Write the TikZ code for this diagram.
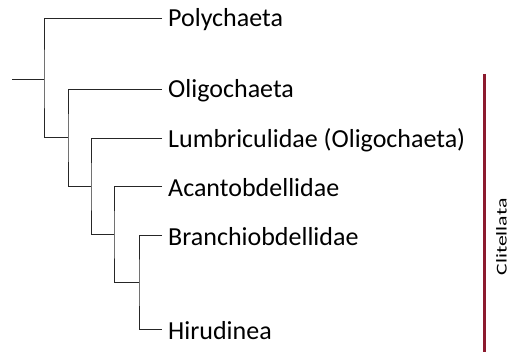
\documentclass[tikz,border=0pt]{standalone}
\usepackage{fontspec}
\setmainfont{Carlito}
\definecolor{barred}{HTML}{8C1A2E}
\begin{document}
\begin{tikzpicture}[x=1pt,y=-1pt,
  br/.style={line width=1pt, black!85},
  lab/.style={anchor=west, inner sep=0pt, font=\fontsize{26}{30}\selectfont}]
\useasboundingbox (0,0) rectangle (509,352);
% internal nodes
\coordinate (r0) at (12,80);
\coordinate (n1) at (44,80);
\coordinate (n2) at (68,138);
\coordinate (n3) at (91,187);
\coordinate (n4) at (114,235);
\coordinate (n5) at (139,283);
% tips
\coordinate (t1) at (162,19);
\coordinate (t2) at (162,90);
\coordinate (t3) at (162,139);
\coordinate (t4) at (162,187);
\coordinate (t5) at (162,236);
\coordinate (t6) at (162,330);
\node[lab] (l1) at (168,20) {Polychaeta};
\node[lab] (l2) at (168,91) {Oligochaeta};
\node[lab] (l3) at (168,140) {Lumbriculidae (Oligochaeta)};
\node[lab] (l4) at (168,188) {Acantobdellidae};
\node[lab] (l5) at (168,237) {Branchiobdellidae};
\node[lab] (l6) at (168,331) {Hirudinea};
\draw[br] (r0) -- (n1);
\draw[br] (t1) -| (n1) |- (n2);
\draw[br] (t2) -| (n2) |- (n3);
\draw[br] (t3) -| (n3) |- (n4);
\draw[br] (t4) -| (n4) |- (n5);
\draw[br] (t5) -| (n5) |- (t6);
% clade bar
\coordinate (b1) at (484,74);
\coordinate (b2) at (484,352);
\draw[barred, line width=3pt] (b1) -- (b2);
\node[rotate=90, anchor=south, inner sep=0pt, font=\fontsize{15}{17}\selectfont] (cl) at (507,237) {\scalebox{1.45}[1]{Clitellata}};
\end{tikzpicture}
\end{document}
